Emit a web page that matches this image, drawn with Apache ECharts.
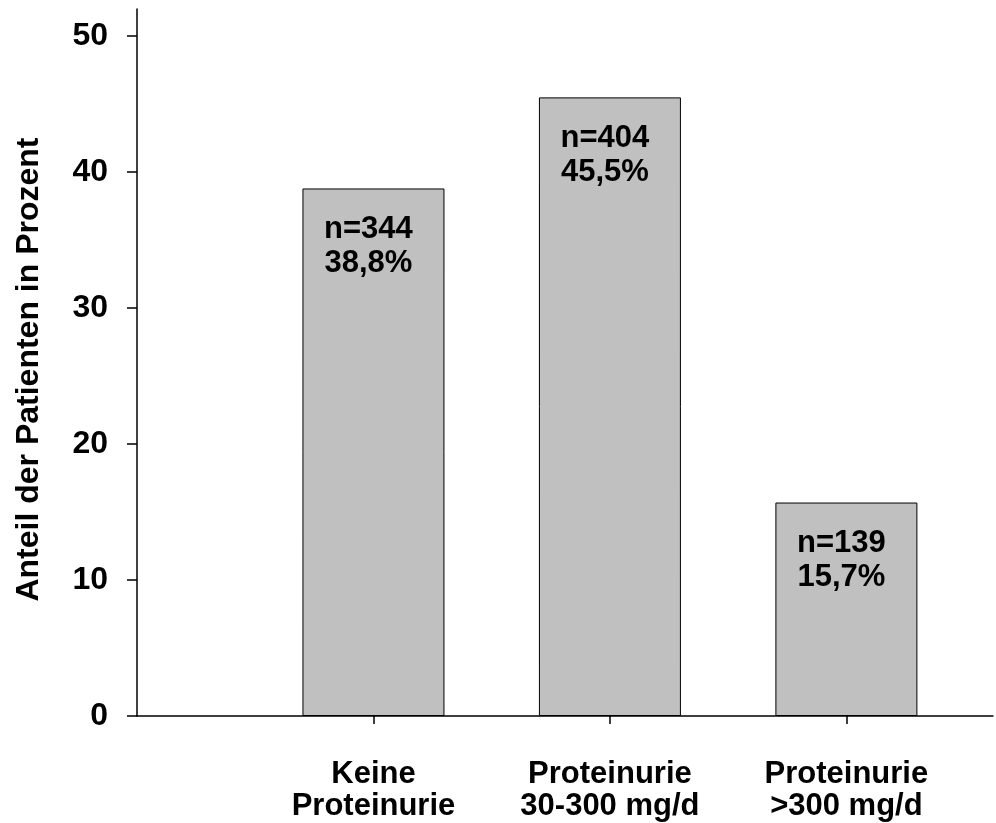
<!DOCTYPE html>
<html>
<head>
<meta charset="utf-8">
<script src="https://cdn.jsdelivr.net/npm/echarts@6/dist/echarts.min.js"></script>
<style>
  html, body { margin: 0; padding: 0; background: #fff; }
  #chart { width: 996px; height: 823px; }
</style>
</head>
<body>
<div id="chart"></div>
<script>
// Daten aus der Abbildung
const categories = ["Keine\nProteinurie", "Proteinurie\n30-300 mg/d", "Proteinurie\n>300 mg/d"];
const positions = [1, 2, 3];
const percent = [38.8, 45.5, 15.7];
const counts = [344, 404, 139];
const yTicks = [0, 10, 20, 30, 40, 50];

const chart = echarts.init(document.getElementById("chart"));
const font = "Liberation Sans, Arial, sans-serif";

const option = {
  animation: false,
  grid: { left: 137, right: 3, top: 9, bottom: 107 },
  xAxis: {
    type: "value",
    min: 0,
    max: 3.62,
    splitLine: { show: false },
    axisLine: { show: true, lineStyle: { color: "#000", width: 1.5 } },
    axisTick: { show: true, length: 8, customValues: positions, lineStyle: { color: "#000", width: 1.5 } },
    axisLabel: {
      customValues: positions,
      margin: 42,
      color: "#000",
      fontFamily: font,
      fontWeight: "bold",
      fontSize: 31,
      lineHeight: 32,
      formatter: v => categories[positions.indexOf(v)] || ""
    }
  },
  yAxis: {
    type: "value",
    min: 0,
    max: 52,
    name: "Anteil der Patienten in Prozent",
    nameLocation: "middle",
    nameGap: 92,
    nameTextStyle: { color: "#000", fontFamily: font, fontWeight: "bold", fontSize: 32, padding: [0, 14, 0, 0] },
    splitLine: { show: false },
    axisLine: { show: true, lineStyle: { color: "#000", width: 1.5 } },
    axisTick: { show: true, length: 10, customValues: yTicks, lineStyle: { color: "#000", width: 1.5 } },
    axisLabel: {
      customValues: yTicks,
      margin: 29,
      color: "#000",
      fontFamily: font,
      fontWeight: "bold",
      fontSize: 32
    }
  },
  series: [
    {
      type: "bar",
      barWidth: 142,
      data: positions.map((p, i) => [p, percent[i]]),
      itemStyle: { color: "#c0c0c0", borderColor: "#000", borderWidth: 1 },
      label: {
        show: true,
        position: "insideTop",
        distance: 24,
        offset: [-5, 0],
        color: "#000",
        fontFamily: font,
        fontWeight: "bold",
        fontSize: 31,
        lineHeight: 34,
        formatter: p => "n=" + counts[p.dataIndex] + "\n" + String(percent[p.dataIndex]).replace(".", ",") + "%"
      }
    }
  ]
};
chart.setOption(option);
</script>
</body>
</html>
